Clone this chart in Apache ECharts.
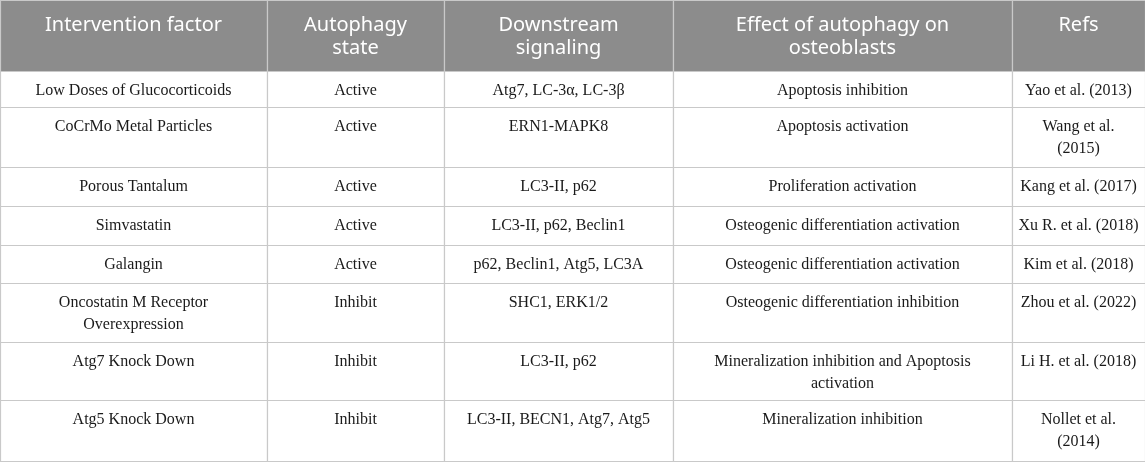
<!DOCTYPE html>
<html>
<head>
<meta charset="utf-8">
<script src="https://cdn.jsdelivr.net/npm/echarts@6/dist/echarts.min.js"></script>
<style>
html, body { margin: 0; padding: 0; background: #ffffff; }
#main { width: 1145px; height: 462px; }
</style>
</head>
<body>
<div id="main"></div>
<script>
var headers = ['Intervention factor', 'Autophagy\nstate', 'Downstream\nsignaling', 'Effect of autophagy on\nosteoblasts', 'Refs'];
var interventionFactors = ['Low Doses of Glucocorticoids', 'CoCrMo Metal Particles', 'Porous Tantalum', 'Simvastatin', 'Galangin', 'Oncostatin M Receptor\nOverexpression', 'Atg7 Knock Down', 'Atg5 Knock Down'];
var autophagyStates = ['Active', 'Active', 'Active', 'Active', 'Active', 'Inhibit', 'Inhibit', 'Inhibit'];
var downstreamSignaling = ['Atg7, LC-3\u03b1, LC-3\u03b2', 'ERN1-MAPK8', 'LC3-II, p62', 'LC3-II, p62, Beclin1', 'p62, Beclin1, Atg5, LC3A', 'SHC1, ERK1/2', 'LC3-II, p62', 'LC3-II, BECN1, Atg7, Atg5'];
var effects = ['Apoptosis inhibition', 'Apoptosis activation', 'Proliferation activation', 'Osteogenic differentiation activation', 'Osteogenic differentiation activation', 'Osteogenic differentiation inhibition', 'Mineralization inhibition and Apoptosis\nactivation', 'Mineralization inhibition'];
var refs = ['Yao et al. (2013)', 'Wang et al.\n(2015)', 'Kang et al. (2017)', 'Xu R. et al. (2018)', 'Kim et al. (2018)', 'Zhou et al. (2022)', 'Li H. et al. (2018)', 'Nollet et al.\n(2014)'];

// table layout (edges in page pixels)
var colEdges = [0, 267, 444, 673, 1012, 1145];
var rowEdges = [0, 71, 107, 167, 206, 245, 283, 342, 400, 461];

var columns = [interventionFactors, autophagyStates, downstreamSignaling, effects, refs];
var cells = [];
headers.forEach(function (h, c) {
    cells.push([c, 0, h]);
});
columns.forEach(function (col, c) {
    col.forEach(function (t, r) {
        cells.push([c, r + 1, t]);
    });
});

var chart = echarts.init(document.getElementById('main'), null, { renderer: 'canvas' });

function renderCell(params, api) {
    var c = api.value(0), r = api.value(1);
    var text = cells[params.dataIndex][2];
    var p0 = api.coord([colEdges[c], rowEdges[r]]);
    var p1 = api.coord([colEdges[c + 1], rowEdges[r + 1]]);
    var isHead = r === 0;
    return {
        type: 'group',
        children: [
            {
                type: 'rect',
                shape: { x: p0[0] + 0.5, y: p0[1] + 0.5, width: p1[0] - p0[0], height: p1[1] - p0[1] },
                style: { fill: isHead ? '#8c8c8c' : '#ffffff', stroke: '#c9c9c9', lineWidth: 1.2 }
            },
            {
                type: 'text',
                style: {
                    text: text,
                    x: (p0[0] + p1[0]) / 2,
                    y: p0[1] + (isHead ? 14 : 9),
                    align: 'center',
                    verticalAlign: 'top',
                    fill: isHead ? '#ffffff' : '#1a1a1a',
                    fontFamily: isHead ? 'Noto Sans' : 'Liberation Serif',
                    fontSize: isHead ? 20 : 16,
                    lineHeight: isHead ? 23 : 22
                }
            }
        ]
    };
}

var option = {
    animation: false,
    grid: { left: 0, right: 0, top: 0, bottom: 0 },
    xAxis: { type: 'value', min: 0, max: 1145, show: false },
    yAxis: { type: 'value', min: 0, max: 462, inverse: true, show: false },
    series: [{
        type: 'custom',
        renderItem: renderCell,
        data: cells.map(function (d) { return [d[0], d[1]]; })
    }]
};
chart.setOption(option);
</script>
</body>
</html>
